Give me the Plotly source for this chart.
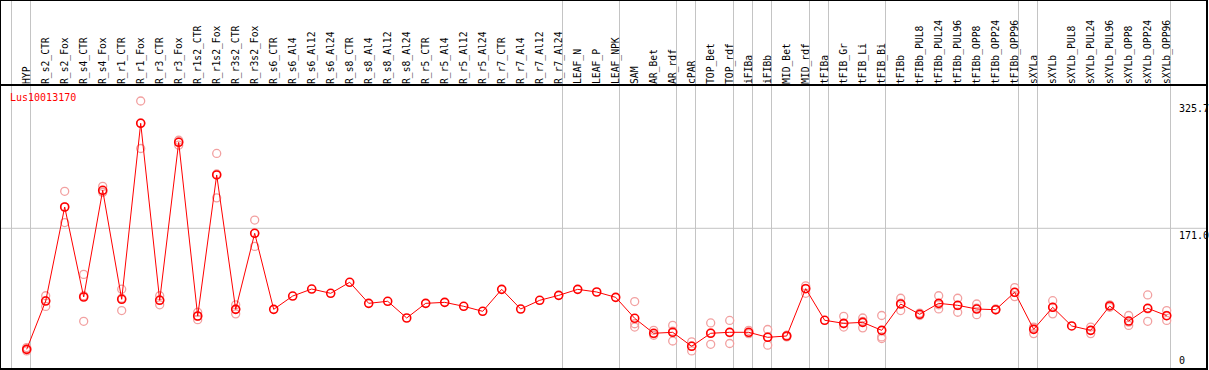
import plotly.graph_objects as go

gene = "Lus10013170"

categories = [
    "HYP", "R_s2_CTR", "R_s2_Fox", "R_s4_CTR", "R_s4_Fox", "R_r1_CTR", "R_r1_Fox",
    "R_r3_CTR", "R_r3_Fox", "R_r1s2_CTR", "R_r1s2_Fox", "R_r3s2_CTR", "R_r3s2_Fox",
    "R_s6_CTR", "R_s6_Al4", "R_s6_Al12", "R_s6_Al24", "R_s8_CTR", "R_s8_Al4",
    "R_s8_Al12", "R_s8_Al24", "R_r5_CTR", "R_r5_Al4", "R_r5_Al12", "R_r5_Al24",
    "R_r7_CTR", "R_r7_Al4", "R_r7_Al12", "R_r7_Al24", "LEAF_N", "LEAF_P", "LEAF_NPK",
    "SAM", "AR_Bet", "AR_rdf", "cPAR", "TOP_Bet", "TOP_rdf", "iFIBa", "iFIBb",
    "MID_Bet", "MID_rdf", "tFIBa", "tFIB_Gr", "tFIB_Li", "tFIB_Bi", "tFIBb",
    "tFIBb_PUL8", "tFIBb_PUL24", "tFIBb_PUL96", "tFIBb_OPP8", "tFIBb_OPP24", "tFIBb_OPP96",
    "sXYLa", "sXYLb", "sXYLb_PUL8", "sXYLb_PUL24", "sXYLb_PUL96", "sXYLb_OPP8",
    "sXYLb_OPP24", "sXYLb_OPP96",
]

# group sizes (vertical separators are drawn after each group)
group_sizes = [1, 28, 3, 3, 1, 2, 1, 1, 2, 1, 3, 7, 1, 7]

mean_values = [
    23.9, 82.6, 196.9, 87.5, 217.2, 84.7, 298.6, 83.5, 275.5, 64.4, 235.8, 72.5, 164.9,
    72.5, 88.7, 97.2, 92.0, 105.4, 79.8, 82.3, 62.0, 79.8, 81.0, 76.2, 70.1,
    96.8, 72.9, 83.5, 89.5, 96.8, 93.6, 87.1,
    61.6, 43.4, 44.6, 27.6, 43.4, 44.6, 44.6, 38.5, 40.1, 97.6,
    59.2, 55.5, 56.7, 47.0, 79.0, 66.5, 79.8, 77.4, 72.9, 72.1, 93.2,
    48.2, 75.0, 52.3, 47.0, 76.6, 58.3, 73.8, 64.8,
]

rep1 = [
    22, 89, 216, 115, 222, 97, 325.7, 89, 278, 69, 262, 78, 181,
    None, None, None, None, None, None, None, None, None, None, None, None,
    None, None, None, None, None, None, None,
    82, 47, 53, 33, 56, 59, 47, 48, 41, 101,
    None, 64, 62, 65, 86, 68, 89, 86, 79, 73, 99,
    51, 83, None, 51, 78, 65, 90, 71,
]
rep2 = [
    26, 76, 178, 58, 215, 71, 268, 78, 272, 60, 208, 67, 149,
    None, None, None, None, None, None, None, None, None, None, None, None,
    None, None, None, None, None, None, None,
    55, 41, 34, 22, 30, 31, 43, 29, 39, 92,
    None, 51, 50, 39, 71, 65, 73, 69, 66, 72, 88,
    43, 67, None, 43, 75, 53, 58, 59,
]
rep3 = [
    24, 83, 197, 89, 215, 86, 299, 84, 276, 64, 237, 73, 165,
    None, None, None, None, None, None, None, None, None, None, None, None,
    None, None, None, None, None, None, None,
    51, 43, 46, 28, 44, 44, 44, 39, 40, 98,
    None, 55, 58, 37, 80, 66, 78, 77, 74, 72, 93,
    50, 75, None, 47, 77, 57, 73, 65,
]

y_labels = [325.7, 171.0, 0]
mid_line = 171.0

RED = "#FF0000"
PINK = "#F2A0A0"
GRID = "#C4C4C4"
FONT = "DejaVu Sans Mono"

fig = go.Figure()

for reps in (rep1, rep2, rep3):
    fig.add_trace(go.Scatter(
        x=categories, y=reps, mode="markers",
        marker=dict(symbol="circle-open", size=8, color=PINK, line=dict(width=1.3, color=PINK)),
        hoverinfo="skip", showlegend=False,
    ))

fig.add_trace(go.Scatter(
    x=categories, y=mean_values, mode="lines+markers",
    line=dict(color=RED, width=1),
    marker=dict(symbol="circle-open", size=8, color=RED, line=dict(width=1.6, color=RED)),
    showlegend=False,
))

head = 85.0 / 284.0
shapes = []
# vertical separators between groups
pos = -1
bounds = [pos]
for g in group_sizes:
    pos += g
    bounds.append(pos)
for b in bounds:
    shapes.append(dict(type="line", xref="x", yref="paper", x0=b + 0.2, x1=b + 0.2,
                       y0=0, y1=1 + head, line=dict(color=GRID, width=1), layer="below"))
# horizontal line at 171
shapes.append(dict(type="line", xref="paper", yref="y", x0=0, x1=1, y0=mid_line, y1=mid_line,
                   line=dict(color=GRID, width=1), layer="below"))
# frame
shapes.append(dict(type="rect", xref="paper", yref="paper", x0=0, x1=1, y0=0, y1=1 + head,
                   line=dict(color="black", width=2)))
shapes.append(dict(type="line", xref="paper", yref="paper", x0=0, x1=1, y0=1, y1=1,
                   line=dict(color="black", width=2)))

annotations = [
    dict(text=gene, xref="paper", yref="paper", x=8 / 1207, y=1, yshift=-5,
         xanchor="left", yanchor="top", showarrow=False,
         font=dict(family=FONT, size=10, color=RED)),
]
for v in y_labels:
    annotations.append(dict(
        text=("%.1f" % v) if v != 0 else "0", xref="paper", yref="y", x=1177 / 1207, y=v,
        xanchor="left", yanchor="top" if v != 0 else "bottom", yshift=0 if v != 0 else 1,
        showarrow=False, font=dict(family=FONT, size=10, color="black")))

fig.update_layout(
    width=1209, height=370,
    margin=dict(l=0, r=2, t=85, b=1),
    paper_bgcolor="white", plot_bgcolor="white",
    shapes=shapes, annotations=annotations,
    xaxis=dict(type="category", side="top", range=[-26.7 / 19, -26.7 / 19 + 1207 / 19],
               tickangle=-90, ticks="", showgrid=False, zeroline=False, showline=False,
               tickfont=dict(family=FONT, size=9.7, color="black"), fixedrange=True),
    yaxis=dict(range=[0, 284 / 0.8228], showticklabels=False, showgrid=False,
               zeroline=False, showline=False, fixedrange=True),
)

fig.write_html(
    "out.html",
    config={"displayModeBar": False},
    post_script="document.body.style.margin='0';document.body.style.overflow='hidden';",
)
